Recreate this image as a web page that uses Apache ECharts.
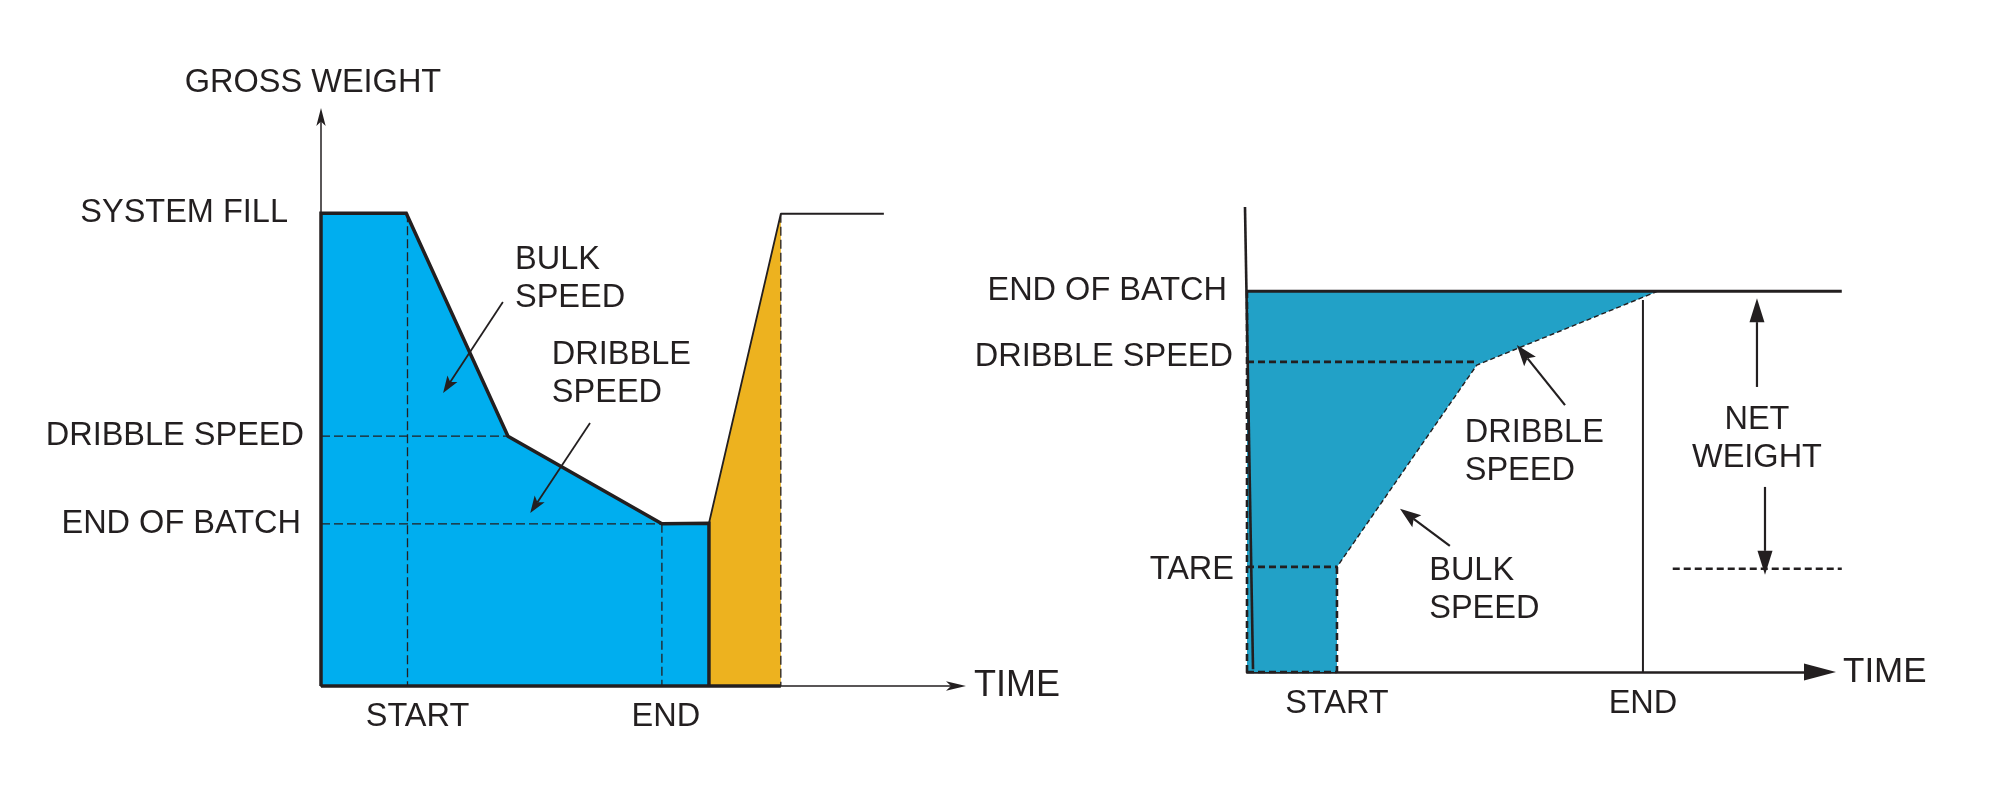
<!DOCTYPE html>
<html><head><meta charset="utf-8">
<script src="https://cdn.jsdelivr.net/npm/echarts@6/dist/echarts.min.js"></script>
<style>html,body{margin:0;padding:0;background:#fff}#c{width:2000px;height:804px}</style>
</head><body><div id="c"></div>
<script>
// ================= LEFT DIAGRAM: gross weight vs time (axis units 0..100) =================
const leftYTickLabels = ['END OF BATCH', 'DRIBBLE SPEED', 'SYSTEM FILL'];
const leftYTickValues = [28.5, 43.9, 83.1];
const leftXTickLabels = ['START', 'END'];
const leftXTickValues = [13.6, 53.6];
// material in the hopper (blue)
const leftBatchTime   = [0, 0, 13.4, 29.4, 53.6, 61.0, 61.0];
const leftBatchWeight = [0, 83.1, 83.1, 43.9, 28.5, 28.6, 0];
// refill (orange)
const leftRefillTime   = [61.0, 72.3, 72.3, 61.0];
const leftRefillWeight = [28.6, 83.0, 0, 0];
// refill line and level afterwards
const leftLevelTime   = [61.0, 72.3, 88.5];
const leftLevelWeight = [28.6, 83.0, 83.0];
// dashed guides [t1, w1, t2, w2]
const leftGuides = [[0, 43.9, 29.4, 43.9], [0, 28.5, 53.6, 28.5], [13.6, 83.1, 13.6, 0], [53.6, 28.5, 53.6, 0], [72.3, 83.0, 72.3, 0]];
const leftBaseLine = [[0, 0, 72.3, 0]];
// annotation arrows [t1, w1, t2, w2] (tail -> head)
const leftArrows = [[28.6, 67.5, 19.2, 51.5], [42.3, 46.2, 32.9, 30.4]];
const leftNotes = ['BULK\nSPEED', 'DRIBBLE\nSPEED'];
const leftNoteTime = [30.5, 36.3];
const leftNoteWeight = [71.5, 54.8];

// ================= RIGHT DIAGRAM: net weight vs time (axis units 0..100) =================
const rightYTickLabels = ['TARE', 'DRIBBLE SPEED', 'END OF BATCH'];
const rightYTickValues = [22.6, 66.7, 81.9];
const rightXTickLabels = ['START', 'END'];
const rightXTickValues = [15.7, 69.1];
const rightBatchTime   = [0, 71.7, 40.1, 15.7, 15.7, 0];
const rightBatchWeight = [81.9, 81.9, 66.0, 22.6, 0, 0];
const rightProfileTime   = [71.7, 40.1, 15.7];
const rightProfileWeight = [81.9, 66.0, 22.6];
const rightGuides = [[0, 66.7, 40.1, 66.7], [0, 22.6, 15.7, 22.6], [15.7, 22.6, 15.7, 0], [0, 0, 15.7, 0], [0, 0, 0, 81.9], [74.3, 22.2, 103.8, 22.2]];
const rightEndOfBatchLine = [[0, 81.9, 103.8, 81.9]];
const rightEndLine = [[69.1, 80.0, 69.1, 0]];
const rightWeightAxis = [[-0.35, 100, 1.05, 0.6]];
const rightArrows = [[55.5, 57.4, 47.1, 70.3], [35.4, 27.1, 26.7, 35.1]];
const rightNetArrows = [[89.0, 61.3, 89.0, 80.4], [90.4, 39.8, 90.4, 20.9]];
const rightNotes = ['DRIBBLE\nSPEED', 'BULK\nSPEED'];
const rightNoteTime = [38.0, 31.8];
const rightNoteWeight = [47.2, 17.6];
const rightNetNote = 'NET\nWEIGHT';
const rightNetNotePos = [89.0, 50.2];

// ================= styling =================
const INK = '#231f20';
const FONT = "'Liberation Sans', Arial, Helvetica, sans-serif";
const txt = {color: INK, fontFamily: FONT, fontSize: 32.5};

function nearestLabel(values, labels, v) {
  let bi = 0;
  values.forEach((x, i) => { if (Math.abs(x - v) < Math.abs(values[bi] - v)) bi = i; });
  return labels[bi];
}
function polygon(ai, xs, ys, color, z) {
  return {type: 'custom', xAxisIndex: ai, yAxisIndex: ai, z, silent: true, animation: false,
    data: [[xs[0], ys[0]]],
    renderItem: (p, api) => ({type: 'polygon',
      shape: {points: xs.map((x, i) => api.coord([x, ys[i]]))},
      style: {fill: color}})};
}
function polyline(ai, xs, ys, style, z) {
  return {type: 'line', xAxisIndex: ai, yAxisIndex: ai, z, silent: true, animation: false,
    clip: false, symbol: 'none', data: xs.map((x, i) => [x, ys[i]]), lineStyle: style};
}
function segs(ai, list, style, z) {
  return {type: 'custom', xAxisIndex: ai, yAxisIndex: ai, z, silent: true, animation: false,
    data: list, encode: {x: [0, 2], y: [1, 3]},
    renderItem: (p, api) => {
      const a = api.coord([api.value(0), api.value(1)]);
      const b = api.coord([api.value(2), api.value(3)]);
      return {type: 'line', shape: {x1: a[0], y1: a[1], x2: b[0], y2: b[1]},
        style: Object.assign({fill: null}, style)};
    }};
}
function arrows(ai, list, o, z) {
  return {type: 'custom', xAxisIndex: ai, yAxisIndex: ai, z, silent: true, animation: false,
    data: list, encode: {x: [0, 2], y: [1, 3]},
    renderItem: (p, api) => {
      const a = api.coord([api.value(0), api.value(1)]);
      const b = api.coord([api.value(2), api.value(3)]);
      const dx = b[0] - a[0], dy = b[1] - a[1], L = Math.hypot(dx, dy);
      const ux = dx / L, uy = dy / L, px = -uy, py = ux;
      const h = o.len, w = o.width / 2, n = o.notch;
      const base = [b[0] - ux * h, b[1] - uy * h];
      const np = [b[0] - ux * (h - n), b[1] - uy * (h - n)];
      return {type: 'group', children: [
        {type: 'line', shape: {x1: a[0], y1: a[1], x2: np[0], y2: np[1]}, style: {stroke: INK, lineWidth: o.lw}},
        {type: 'polygon', shape: {points: [b, [base[0] + px * w, base[1] + py * w], np, [base[0] - px * w, base[1] - py * w]]},
          style: {fill: INK}}
      ]};
    }};
}
function notes(ai, names, xs, ys, pos, z) {
  return {type: 'scatter', xAxisIndex: ai, yAxisIndex: ai, z, silent: true, animation: false,
    symbolSize: 0, itemStyle: {opacity: 1},
    data: names.map((n, i) => ({name: n, value: [xs[i], ys[i]]})),
    label: Object.assign({show: true, position: pos, distance: 0, formatter: p => p.name,
      lineHeight: 38, opacity: 1}, txt)};
}

const dashThin = {stroke: INK, lineWidth: 1.3, lineDash: [9, 4]};
const dashThick = {stroke: INK, lineWidth: 2.6, lineDash: [7, 4]};

const option = {
  backgroundColor: '#fff',
  animation: false,
  grid: [
    {left: 321, top: 117, width: 636, height: 569},
    {left: 1247, top: 207, width: 573, height: 465}
  ],
  xAxis: [
    {type: 'value', gridIndex: 0, min: 0, max: 100, name: 'TIME', nameLocation: 'end', nameGap: 17,
      nameTextStyle: {color: INK, fontFamily: FONT, fontSize: 36, padding: [6, 0, 0, 0]},
      axisLine: {show: true, lineStyle: {color: INK, width: 1.5}, symbol: ['none', 'arrow'], symbolSize: [7, 20], symbolOffset: [0, 9]},
      axisTick: {show: false}, splitLine: {show: false},
      axisLabel: Object.assign({customValues: leftXTickValues, margin: 15,
        formatter: v => { const l = nearestLabel(leftXTickValues, leftXTickLabels, v); return l === 'START' ? '{s|' + l + '}' : '{e|' + l + '}'; },
        rich: {s: Object.assign({padding: [0, 0, 0, 20]}, txt), e: Object.assign({padding: [0, 0, 0, 8]}, txt)}}, txt)},
    {type: 'value', gridIndex: 1, min: 0, max: 100, name: 'TIME', nameLocation: 'end', nameGap: 23,
      nameTextStyle: {color: INK, fontFamily: FONT, fontSize: 35, padding: [0, 0, 10, 0]},
      axisLine: {show: true, lineStyle: {color: INK, width: 2.5}, symbol: ['none', 'triangle'], symbolSize: [17, 32]},
      axisTick: {show: false}, splitLine: {show: false},
      axisLabel: Object.assign({customValues: rightXTickValues, margin: 16,
        formatter: v => nearestLabel(rightXTickValues, rightXTickLabels, v)}, txt)}
  ],
  yAxis: [
    {type: 'value', gridIndex: 0, min: 0, max: 100, name: 'GROSS WEIGHT', nameLocation: 'end', nameGap: 17,
      nameTextStyle: {color: INK, fontFamily: FONT, fontSize: 32.5, padding: [0, 16, 0, 0]},
      axisLine: {show: true, lineStyle: {color: INK, width: 1.5}, symbol: ['none', 'arrow'], symbolSize: [7, 18], symbolOffset: [0, 9]},
      axisTick: {show: false}, splitLine: {show: false},
      axisLabel: Object.assign({customValues: leftYTickValues, margin: 17,
        formatter: v => { const l = nearestLabel(leftYTickValues, leftYTickLabels, v);
          return l === 'SYSTEM FILL' ? '{a|' + l + '}' : (l === 'END OF BATCH' ? '{b|' + l + '}' : '{c|' + l + '}'); },
        rich: {a: Object.assign({padding: [0, 16, 0, 0]}, txt), b: Object.assign({padding: [0, 3, 0, 0]}, txt), c: Object.assign({}, txt)}}, txt)},
    {type: 'value', gridIndex: 1, min: 0, max: 100,
      axisLine: {show: false}, axisTick: {show: false}, splitLine: {show: false},
      axisLabel: Object.assign({customValues: rightYTickValues, margin: 13,
        formatter: v => { const l = nearestLabel(rightYTickValues, rightYTickLabels, v);
          return l === 'END OF BATCH' ? '{a|' + l + '}' : (l === 'DRIBBLE SPEED' ? '{b|' + l + '}' : '{c|' + l + '}'); },
        rich: {a: Object.assign({padding: [0, 7, 0, 0]}, txt), b: Object.assign({padding: [0, 1, 10, 0]}, txt), c: Object.assign({padding: [6, 0, 0, 0]}, txt)}}, txt)}
  ],
  series: [
    // ---- left
    polygon(0, leftRefillTime, leftRefillWeight, '#EDB21F', 1),
    polygon(0, leftBatchTime, leftBatchWeight, '#00AEEF', 1),
    segs(0, leftGuides, dashThin, 3),
    polyline(0, leftLevelTime, leftLevelWeight, {color: INK, width: 1.8}, 4),
    polyline(0, leftBatchTime, leftBatchWeight, {color: INK, width: 3.5, join: 'miter'}, 5),
    segs(0, leftBaseLine, {stroke: INK, lineWidth: 3.5}, 5),
    arrows(0, leftArrows, {lw: 1.8, len: 17, width: 12, notch: 4}, 6),
    notes(0, leftNotes, leftNoteTime, leftNoteWeight, 'right', 7),
    // ---- right
    polygon(1, rightBatchTime, rightBatchWeight, '#22A1C7', 1),
    polyline(1, rightProfileTime, rightProfileWeight, {color: INK, width: 1.4, type: [5, 3]}, 3),
    segs(1, rightGuides, dashThick, 3),
    segs(1, rightEndOfBatchLine, {stroke: INK, lineWidth: 3}, 4),
    segs(1, rightEndLine, {stroke: INK, lineWidth: 2}, 4),
    segs(1, rightWeightAxis, {stroke: INK, lineWidth: 2.6}, 5),
    arrows(1, rightArrows, {lw: 2.2, len: 21, width: 15, notch: 4}, 6),
    arrows(1, rightNetArrows, {lw: 2.2, len: 24, width: 15, notch: 0}, 6),
    notes(1, rightNotes, rightNoteTime, rightNoteWeight, 'right', 7),
    notes(1, [rightNetNote], [rightNetNotePos[0]], [rightNetNotePos[1]], 'inside', 7)
  ]
};
const chart = echarts.init(document.getElementById('c'), null, {renderer: 'canvas'});
chart.setOption(option);
</script></body></html>
